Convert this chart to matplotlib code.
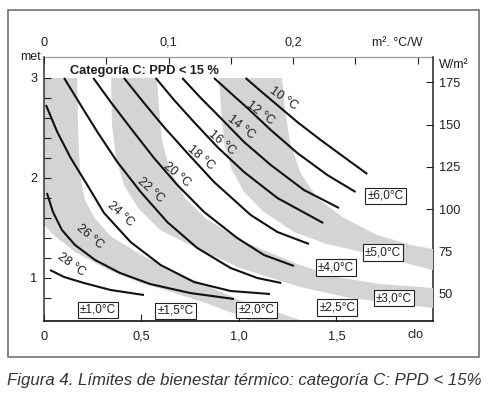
import matplotlib
matplotlib.use("Agg")
import matplotlib.pyplot as plt
from matplotlib.patches import Rectangle

plt.rcParams['font.family'] = ['Liberation Sans', 'DejaVu Sans']

# ---- optimal operative temperature curves (clo, met) ----
t10_clo = [1.034, 1.111, 1.196, 1.299, 1.419, 1.538, 1.658]
t10_met = [3.00, 2.87, 2.73, 2.56, 2.38, 2.21, 2.04]
t12_clo = [0.872, 0.957, 1.043, 1.163, 1.299, 1.453, 1.598]
t12_met = [3.00, 2.85, 2.70, 2.48, 2.25, 2.03, 1.86]
t14_clo = [0.709, 0.804, 0.906, 1.026, 1.163, 1.333, 1.513]
t14_met = [3.00, 2.80, 2.60, 2.36, 2.13, 1.88, 1.70]
t16_clo = [0.573, 0.667, 0.769, 0.889, 1.026, 1.197, 1.432]
t16_met = [3.00, 2.78, 2.56, 2.31, 2.06, 1.80, 1.55]
t18_clo = [0.410, 0.513, 0.615, 0.735, 0.872, 1.060, 1.197, 1.359]
t18_met = [3.00, 2.75, 2.51, 2.25, 1.96, 1.63, 1.46, 1.34]
t20_clo = [0.253, 0.342, 0.444, 0.564, 0.684, 0.821, 0.991, 1.128, 1.282]
t20_met = [3.00, 2.76, 2.50, 2.20, 1.93, 1.66, 1.40, 1.23, 1.12]
t22_clo = [0.103, 0.188, 0.274, 0.376, 0.496, 0.632, 0.786, 0.957, 1.094, 1.217]
t22_met = [3.00, 2.73, 2.46, 2.16, 1.86, 1.56, 1.30, 1.10, 1.00, 0.95]
t24_clo = [0.010, 0.068, 0.137, 0.222, 0.308, 0.444, 0.598, 0.769, 0.957, 1.159]
t24_met = [2.73, 2.46, 2.20, 1.93, 1.65, 1.36, 1.13, 0.96, 0.87, 0.84]
t26_clo = [0.015, 0.046, 0.092, 0.159, 0.262, 0.390, 0.544, 0.749, 0.974]
t26_met = [1.85, 1.66, 1.48, 1.33, 1.18, 1.05, 0.94, 0.85, 0.79]
t28_clo = [0.031, 0.103, 0.205, 0.342, 0.513]
t28_met = [1.08, 1.01, 0.95, 0.88, 0.83]

curve_names = ['10 °C', '12 °C', '14 °C', '16 °C', '18 °C',
               '20 °C', '22 °C', '24 °C', '26 °C', '28 °C']
label_clo = [1.226, 1.108, 1.010, 0.910, 0.805, 0.679, 0.549, 0.395, 0.236, 0.138]
label_met = [2.795, 2.645, 2.505, 2.355, 2.205, 2.035, 1.875, 1.635, 1.415, 1.135]
label_rot = [-35, -37, -38, -40, -40, -40, -42, -42, -40, -36]

# ---- grey bands (outer edge / inner edge, clo-met) ----
bandA_out_clo = [0.17, 0.175, 0.185, 0.21, 0.26, 0.34, 0.50, 0.67, 0.83, 1.00, 1.19, 1.33, 1.40]
bandA_out_met = [3.0, 2.48, 2.03, 1.78, 1.60, 1.42, 1.23, 1.06, 0.93, 0.78, 0.66, 0.57, 0.50]
bandA_in_clo = [0.0, 0.0, 0.056, 0.16, 0.33, 0.50, 0.67, 0.83, 0.98, 1.06, 1.13]
bandA_in_met = [3.0, 1.53, 1.42, 1.26, 1.08, 0.95, 0.85, 0.75, 0.64, 0.57, 0.50]

bandB_out_clo = [0.579, 0.590, 0.605, 0.646, 0.723, 0.826, 1.026, 1.313, 1.503, 1.723, 1.995, 2.056]
bandB_out_met = [3.0, 2.70, 2.38, 2.08, 1.80, 1.60, 1.36, 1.13, 1.01, 0.94, 0.90, 0.89]
bandB_in_clo = [0.344, 0.349, 0.369, 0.410, 0.482, 0.595, 0.800, 1.005, 1.313, 1.569, 1.826, 1.995, 2.056]
bandB_in_met = [3.0, 2.53, 2.20, 1.93, 1.70, 1.48, 1.28, 1.10, 0.91, 0.80, 0.74, 0.70, 0.69]

bandC_out_clo = [1.221, 1.236, 1.262, 1.313, 1.400, 1.538, 1.708, 1.882, 1.995, 2.056]
bandC_out_met = [3.0, 2.68, 2.36, 2.06, 1.80, 1.60, 1.43, 1.33, 1.29, 1.28]
bandC_in_clo = [0.897, 0.908, 0.923, 0.959, 1.026, 1.128, 1.282, 1.451, 1.605, 1.774, 1.995, 2.056]
bandC_in_met = [3.0, 2.70, 2.36, 2.10, 1.86, 1.66, 1.46, 1.34, 1.27, 1.19, 1.08, 1.05]

# ---- range boxes ----
range_labels = ['±1,0°C', '±1,5°C', '±2,0°C', '±2,5°C', '±3,0°C', '±4,0°C', '±5,0°C', '±6,0°C']
range_clo = [0.277, 0.675, 1.090, 1.504, 1.795, 1.496, 1.739, 1.752]
range_met = [0.680, 0.672, 0.680, 0.705, 0.797, 1.105, 1.255, 1.822]

# ---- axis ticks ----
clo_ticks = [0, 0.5, 1.0, 1.5]
clo_labels = ['0', '0,5', '1,0', '1,5']
met_ticks = [1, 2, 3]
met_minor = [0.8, 1.2, 1.4, 1.6, 1.8, 2.2, 2.4, 2.6, 2.8]
r_ticks = [0, 0.1, 0.2]
r_labels = ['0', '0,1', '0,2']
r_minor = [0.05, 0.15, 0.25, 0.30]
w_ticks = [50, 75, 100, 125, 150, 175]

W, H = 492, 397
fig = plt.figure(figsize=(W / 100, H / 100), dpi=100)
ax = fig.add_axes([44 / W, 1 - 321 / H, (433 - 44) / W, (321 - 57) / H])
ax.set_xlim(0, 1.995)
ax.set_ylim(0.57, 3.21)

GREY = '#d4d4d4'
TXT = '#1e1e1e'
for oc, om, ic, im in [(bandA_out_clo, bandA_out_met, bandA_in_clo, bandA_in_met),
                       (bandB_out_clo, bandB_out_met, bandB_in_clo, bandB_in_met),
                       (bandC_out_clo, bandC_out_met, bandC_in_clo, bandC_in_met)]:
    ax.fill(oc + ic[::-1], om + im[::-1], color=GREY, lw=0, zorder=1)

curves = [(t10_clo, t10_met), (t12_clo, t12_met), (t14_clo, t14_met), (t16_clo, t16_met),
          (t18_clo, t18_met), (t20_clo, t20_met), (t22_clo, t22_met), (t24_clo, t24_met),
          (t26_clo, t26_met), (t28_clo, t28_met)]
for c, m in curves:
    ax.plot(c, m, color='#111111', lw=1.5, solid_capstyle='butt', solid_joinstyle='round', zorder=2)

for name, c, m, r in zip(curve_names, label_clo, label_met, label_rot):
    ax.text(c, m, name, rotation=r, rotation_mode='anchor', ha='center', va='center',
            fontsize=8.9, color=TXT, zorder=3)

for name, c, m in zip(range_labels, range_clo, range_met):
    ax.text(c, m, name, ha='center', va='center', fontsize=8.5, color=TXT, zorder=4,
            bbox=dict(boxstyle='square,pad=0.18', fc='white', ec='#222222', lw=0.8))

ax.text(70 / W, 1 - 71 / H, 'Categoría C: PPD < 15 %', transform=fig.transFigure,
        ha='left', va='center', fontsize=9.2, fontweight='bold', color=TXT)

# main axis ticks
ax.set_xticks(clo_ticks, clo_labels)
ax.set_yticks(met_ticks, [str(v) for v in met_ticks])
ax.set_yticks(met_minor, minor=True)
ax.tick_params(which='both', direction='in', length=5, width=0.8, colors=TXT, labelsize=9.2)
ax.tick_params(axis='x', pad=7)
ax.tick_params(axis='y', pad=5)
ax.spines['top'].set_visible(False)
ax.spines['right'].set_visible(False)
ax.spines['left'].set_color('#333333')
ax.spines['bottom'].set_color('#111111')
ax.spines['left'].set_linewidth(1.1)
ax.spines['bottom'].set_linewidth(1.2)

top = ax.secondary_xaxis('top', functions=(lambda c: c * 0.1565, lambda r: r / 0.1565))
top.set_ticks(r_ticks, r_labels)
top.set_ticks(r_minor, minor=True)
top.tick_params(which='both', direction='in', length=5, width=0.8, colors=TXT, labelsize=9.2, pad=6)
top.spines['top'].set_color('#9a9a9a')
top.spines['top'].set_linewidth(0.9)

right = ax.secondary_yaxis('right', functions=(lambda m: m * 59.2, lambda w: w / 59.2))
right.set_ticks(w_ticks, [str(v) for v in w_ticks])
right.tick_params(which='both', direction='in', length=5, width=0.8, colors=TXT, labelsize=9.2, pad=4)
right.spines['right'].set_color('#222222')
right.spines['right'].set_linewidth(1.1)

fig.text(31 / W, 1 - 57.5 / H, 'met', ha='center', va='center', fontsize=9, color=TXT)
fig.text(453.5 / W, 1 - 65 / H, 'W/m²', ha='center', va='center', fontsize=9, color=TXT)
fig.text(397.5 / W, 1 - 43.5 / H, 'm². °C/W', ha='center', va='center', fontsize=9, color=TXT)
fig.text(415.5 / W, 1 - 335 / H, 'clo', ha='center', va='center', fontsize=9, color=TXT)

fig.add_artist(Rectangle((7.5 / W, 1 - 357 / H), (478.5 - 7.5) / W, (357 - 9.5) / H,
                         transform=fig.transFigure, fill=False, ec='#666666', lw=1.1))

fig.text(244 / W, 1 - 385 / H, 'Figura 4. Límites de bienestar térmico: categoría C: PPD < 15%',
         ha='center', va='baseline', fontsize=12.1, style='italic', color='#333333')

fig.savefig('out.png', dpi=100)
